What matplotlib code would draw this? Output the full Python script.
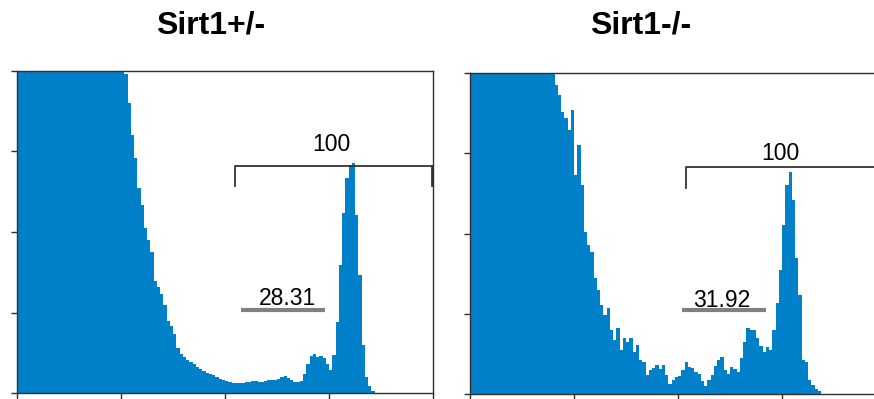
import numpy as np
import matplotlib
matplotlib.use("Agg")
import matplotlib.pyplot as plt

plt.rcParams['font.family'] = ['Liberation Sans', 'DejaVu Sans']

titles = ["Sirt1+/-", "Sirt1-/-"]
gate_all_labels = ["100", "100"]
gate_s_labels = ["28.31", "31.92"]

# histogram counts, 128 bins over channel 0..1024 (values above 400 are off-scale)
het_counts = [500] * 33 + [
    396, 360, 320, 292, 255, 234, 205, 190, 175, 139, 132, 123, 109, 89, 83, 73,
    56, 48, 45, 41, 39, 36, 32, 30, 27, 25, 24, 22, 20, 17, 16, 15,
    14, 12, 12, 12, 12, 14, 14, 15, 15, 14, 14, 15, 16, 16, 16, 17,
    20, 21, 19, 16, 14, 14, 15, 24, 36, 46, 48, 45, 46, 43, 36, 29,
    47, 88, 159, 224, 267, 283, 286, 221, 147, 60, 20, 9, 2] + [0] * 18

ko_counts = [500] * 26 + [
    385, 373, 351, 344, 329, 354, 273, 310, 260, 202, 186, 177, 145, 130, 111, 98,
    107, 80, 67, 82, 55, 70, 65, 70, 52, 61, 42, 40, 24, 30, 32, 36,
    31, 36, 24, 12, 17, 21, 22, 30, 40, 34, 32, 27, 25, 16, 10, 17,
    24, 35, 42, 46, 30, 25, 34, 31, 27, 45, 65, 82, 80, 80, 70, 60,
    52, 59, 55, 80, 113, 155, 211, 260, 277, 242, 169, 123, 42, 40, 17, 11,
    6, 4] + [0] * 20

edges = np.arange(0, 1025, 8)
blue = '#0080C8'

fig = plt.figure(figsize=(8.74, 3.99), dpi=100)
W, H = 874, 399

def px_axes(x0, y_top, w, h):
    return fig.add_axes([x0 / W, 1 - (y_top + h) / H, w / W, h / H])

axL = px_axes(17, 71, 416, 322)
axR = px_axes(470, 73, 416, 321)

for ax, counts in [(axL, het_counts), (axR, ko_counts)]:
    ax.stairs(counts, edges, fill=True, color=blue, lw=0)
    ax.set_xlim(0, 1024)
    ax.set_ylim(0, 400)
    ax.set_xticks([0, 256, 512, 768, 1024])
    ax.set_yticks([0, 100, 200, 300, 400])
    ax.set_xticklabels([])
    ax.set_yticklabels([])
    ax.tick_params(direction='out', length=4, width=1, color='#303030')
    for s in ax.spines.values():
        s.set_color('#303030')
        s.set_linewidth(1.0)

bracket_col = '#333333'
# left panel gates
axL.plot([537, 537, 1024], [257, 282, 282], color=bracket_col, lw=1.3, clip_on=False)
axL.plot([1021, 1021], [258, 282], color=bracket_col, lw=2.0, clip_on=False)
axL.text(773, 309, gate_all_labels[0], ha='center', va='center', fontsize=16.5)
axL.plot([551, 758], [103, 103], color='#808080', lw=3, solid_capstyle='butt')
axL.text(665, 118, gate_s_labels[0], ha='center', va='center', fontsize=16.5)

# right panel gates
axR.plot([532, 532, 1100], [257, 283, 283], color=bracket_col, lw=1.3, clip_on=False)
axR.text(763, 300, gate_all_labels[1], ha='center', va='center', fontsize=16.5)
axR.plot([522, 729], [105, 105], color='#808080', lw=3, solid_capstyle='butt')
axR.text(620, 117, gate_s_labels[1], ha='center', va='center', fontsize=16.5)

fig.text(211 / W, 1 - 25 / H, titles[0], ha='center', va='center', fontsize=23, fontweight='bold')
fig.text(641 / W, 1 - 25 / H, titles[1], ha='center', va='center', fontsize=23, fontweight='bold')

fig.savefig('out.png', dpi=100)
